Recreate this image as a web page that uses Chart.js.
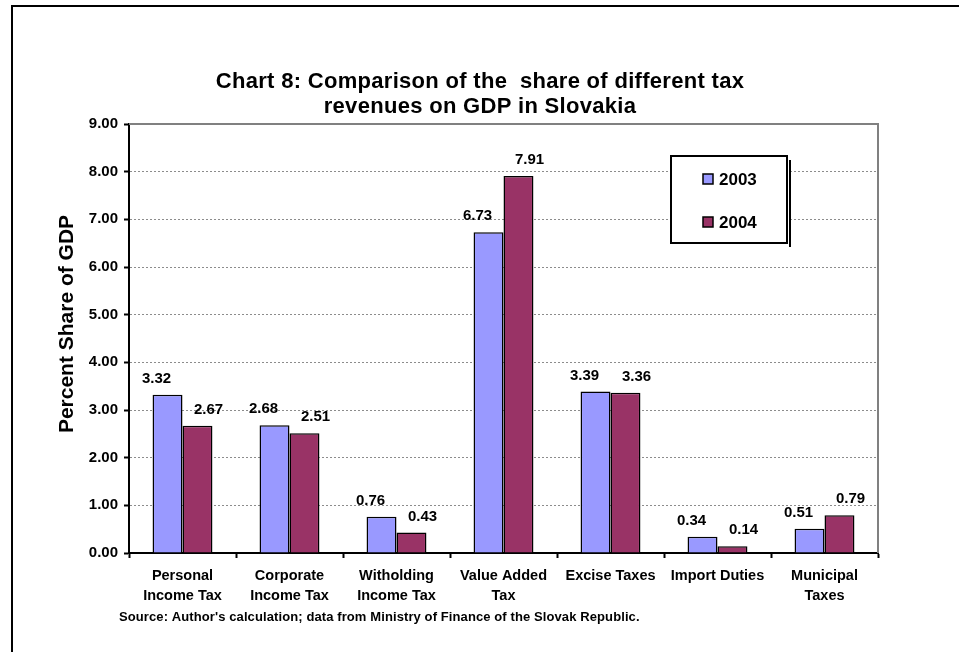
<!DOCTYPE html>
<html>
<head>
<meta charset="utf-8">
<script src="https://cdn.jsdelivr.net/npm/chart.js@4/dist/chart.umd.min.js"></script>
<style>
    html, body { margin: 0; padding: 0; background: #fff; }
    #myChart { display: block; }
</style>
</head>
<body>
<canvas id="myChart" width="959" height="652"></canvas>
<script>
// données du graphique
const categories = [
    ["Personal", "Income Tax"],
    ["Corporate", "Income Tax"],
    ["Witholding", "Income Tax"],
    ["Value Added", "Tax"],
    ["Excise Taxes"],
    ["Import Duties"],
    ["Municipal", "Taxes"]
];
const years = ["2003", "2004"];
const values2003 = [3.32, 2.68, 0.76, 6.73, 3.39, 0.34, 0.51];
const values2004 = [2.67, 2.51, 0.43, 7.91, 3.36, 0.14, 0.79];
const yMin = 0;
const yMax = 9;
const yStep = 1;

// textes
const titleLines = ["Chart 8: Comparison of the  share of different tax", "revenues on GDP in Slovakia"];
const yTitle = "Percent Share of GDP";
const sourceText = "Source: Author's calculation; data from Ministry of Finance of the Slovak Republic.";

const colors = ["#9999FF", "#993366"];
const FONT = "Arial, 'Liberation Sans', sans-serif";

var canvas = document.getElementById("myChart");
var ctx = canvas.getContext('2d');

/**
 * valeurs au-dessus des barres
 */
const valueLabels = {
    id: 'valueLabels',
    afterDatasetsDraw(chart) {
        const c = chart.ctx;
        c.save();
        c.font = "bold 15px " + FONT;
        c.fillStyle = "#000";
        c.textAlign = "center";
        c.textBaseline = "middle";
        chart.data.datasets.forEach((ds, i) => {
            const meta = chart.getDatasetMeta(i);
            const dx = i === 0 ? -11 : 11;
            meta.data.forEach((bar, j) => {
                c.fillText(ds.data[j].toFixed(2), bar.x + dx, bar.y - 16);
            });
        });
        c.restore();
    }
};

/**
 * cadre, titres, source et légende
 */
const decor = {
    id: 'decor',
    beforeDatasetsDraw(chart) {
        // bord gris de la zone de tracé (haut et droite)
        const a = chart.chartArea;
        const c = chart.ctx;
        c.save();
        c.strokeStyle = "#808080";
        c.lineWidth = 2;
        c.beginPath();
        c.moveTo(a.left, a.top);
        c.lineTo(a.right, a.top);
        c.lineTo(a.right, a.bottom);
        c.stroke();
        c.restore();
    },
    afterDraw(chart) {
        const c = chart.ctx;
        c.save();

        // cadre extérieur
        c.strokeStyle = "#000";
        c.lineWidth = 2;
        c.beginPath();
        c.moveTo(12, chart.height);
        c.lineTo(12, 6);
        c.lineTo(chart.width, 6);
        c.stroke();

        // titre
        c.fillStyle = "#000";
        c.textAlign = "center";
        c.textBaseline = "middle";
        c.font = "bold 22px " + FONT;
        c.letterSpacing = "0.3px";
        titleLines.forEach((t, i) => c.fillText(t, 480, 82 + i * 25));
        c.letterSpacing = "0px";

        // titre axe y
        c.save();
        c.translate(67, 324);
        c.rotate(-Math.PI / 2);
        c.font = "bold 21px " + FONT;
        c.fillText(yTitle, 0, 0);
        c.restore();

        // source
        c.textAlign = "left";
        c.font = "bold 13px " + FONT;
        c.letterSpacing = "0.1px";
        c.fillText(sourceText, 119, 617);
        c.letterSpacing = "0px";

        // légende avec ombre à droite
        const lx = 671, ly = 156, lw = 116, lh = 87;
        c.fillStyle = "#fff";
        c.fillRect(lx, ly, lw, lh);
        c.strokeStyle = "#000";
        c.lineWidth = 2;
        c.strokeRect(lx, ly, lw, lh);
        c.beginPath();
        c.moveTo(lx + lw + 3, ly + 4);
        c.lineTo(lx + lw + 3, ly + lh + 4);
        c.stroke();
        c.font = "bold 17px " + FONT;
        chart.data.datasets.forEach((ds, i) => {
            const yy = 179 + i * 43;
            c.fillStyle = ds.backgroundColor;
            c.fillRect(703, yy - 5, 10, 10);
            c.strokeStyle = "#000";
            c.lineWidth = 1.5;
            c.strokeRect(703, yy - 5, 10, 10);
            c.fillStyle = "#000";
            c.fillText(ds.label, 719, yy + 1);
        });

        c.restore();
    }
};

myChart = new Chart(ctx, {
    type: 'bar',
    data: {
        labels: categories,
        datasets: [{
            label: years[0],
            data: values2003,
            backgroundColor: colors[0],
            borderColor: "#000",
            borderWidth: 1.5
        }, {
            label: years[1],
            data: values2004,
            backgroundColor: colors[1],
            borderColor: "#000",
            borderWidth: 1.5
        }]
    },
    options: {
        responsive: false,
        animation: false,
        devicePixelRatio: 1,
        layout: { padding: { left: 0, top: 124, right: 81, bottom: 0 } },
        datasets: { bar: { categoryPercentage: 0.56, barPercentage: 1.0 } },
        plugins: {
            legend: { display: false },
            title: { display: false },
            tooltip: { enabled: false }
        },
        scales: {
            x: {
                grid: {
                    drawOnChartArea: false,
                    tickLength: 5,
                    tickColor: "#000",
                    tickWidth: 2
                },
                border: { color: "#000", width: 2 },
                ticks: {
                    color: "#000",
                    padding: 8,
                    maxRotation: 0,
                    autoSkip: false,
                    font: { family: FONT, size: 14.5, weight: 'bold', lineHeight: 1.38 }
                },
                afterFit(scale) { scale.height = 99; }
            },
            y: {
                min: yMin,
                max: yMax,
                grid: {
                    color: "#8c8c8c",
                    lineWidth: 1,
                    tickLength: 5,
                    tickColor: "#000",
                    tickWidth: 2
                },
                border: { color: "#000", width: 2, dash: [2, 2] },
                ticks: {
                    stepSize: yStep,
                    color: "#000",
                    padding: 6,
                    font: { family: FONT, size: 15, weight: 'bold' },
                    callback: (v) => Number(v).toFixed(2)
                },
                afterFit(scale) { scale.width = 129; }
            }
        }
    },
    plugins: [valueLabels, decor]
});
</script>
</body>
</html>
